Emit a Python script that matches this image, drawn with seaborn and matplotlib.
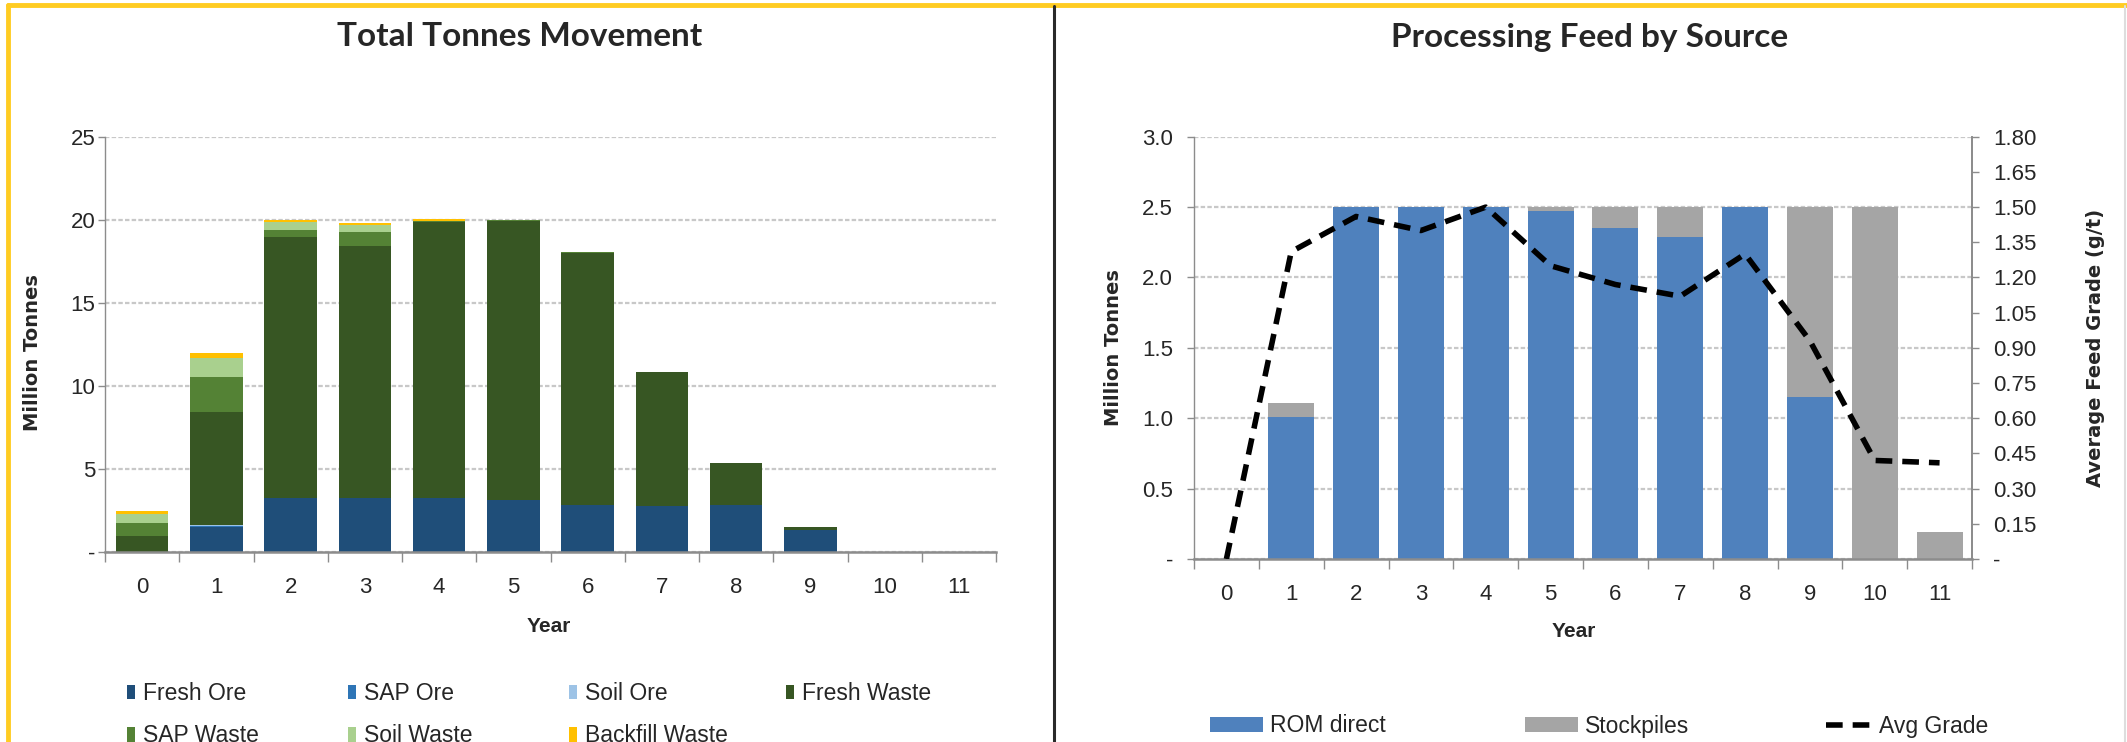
import numpy as np
import matplotlib
matplotlib.use("Agg")
import matplotlib.pyplot as plt
import seaborn as sns
from matplotlib.lines import Line2D
from matplotlib.patches import Patch

# ---------------- data ----------------
years = [str(y) for y in range(12)]

# Total tonnes movement (Mt), stacked bottom -> top
fresh_ore = [0.0, 1.50, 3.25, 3.25, 3.25, 3.15, 2.85, 2.75, 2.85, 1.34, 0.0, 0.0]
sap_ore = [0.0, 0.05, 0.0, 0.0, 0.0, 0.0, 0.0, 0.0, 0.0, 0.0, 0.0, 0.0]
soil_ore = [0.0, 0.10, 0.0, 0.0, 0.0, 0.0, 0.0, 0.0, 0.0, 0.0, 0.0, 0.0]
fresh_waste = [0.94, 6.80, 15.70, 15.20, 16.60, 16.80, 15.15, 8.10, 2.50, 0.16, 0.0, 0.0]
sap_waste = [0.80, 2.10, 0.45, 0.80, 0.05, 0.05, 0.05, 0.0, 0.0, 0.0, 0.0, 0.0]
soil_waste = [0.55, 1.10, 0.45, 0.46, 0.0, 0.0, 0.0, 0.0, 0.0, 0.0, 0.0, 0.0]
backfill_waste = [0.20, 0.30, 0.15, 0.10, 0.15, 0.0, 0.0, 0.0, 0.0, 0.0, 0.0, 0.0]

tonnes_series = ["Fresh Ore", "SAP Ore", "Soil Ore", "Fresh Waste",
                 "SAP Waste", "Soil Waste", "Backfill Waste"]
tonnes_values = [fresh_ore, sap_ore, soil_ore, fresh_waste,
                 sap_waste, soil_waste, backfill_waste]
tonnes_colors = ["#1f4e79", "#2e75b6", "#9dc3e6", "#375623",
                 "#548235", "#a9d08e", "#ffc000"]

# Processing feed by source (Mt) and grade (g/t)
rom_direct = [0.0, 1.01, 2.50, 2.50, 2.50, 2.47, 2.35, 2.29, 2.50, 1.15, 0.0, 0.0]
stockpiles = [0.0, 0.10, 0.0, 0.0, 0.0, 0.03, 0.15, 0.21, 0.0, 1.35, 2.50, 0.19]
avg_grade = [0.0, 1.31, 1.46, 1.40, 1.50, 1.25, 1.17, 1.12, 1.30, 0.93, 0.42, 0.41]

# ---------------- style ----------------
sns.set_theme(style="white")
SANS = ["Liberation Sans", "DejaVu Sans"]
plt.rcParams["font.family"] = SANS

W, H = 2127, 742
fig = plt.figure(figsize=(W / 100, H / 100), dpi=100)
fig.patch.set_facecolor("white")

GRID = "#c8c8c8"
SPINE = "#8c8c8c"
TICK_FS = 16
LEG_FS = 16.5
DASH = (0, (3, 1.8))
LINE_W = 4.0


def style_axis(ax, ypad):
    ax.set_xlim(-0.5, 11.5)
    ax.yaxis.grid(True, color=GRID, linestyle=(0, (2, 1)), linewidth=1.6)
    ax.set_axisbelow(True)
    for s in ["top", "right"]:
        ax.spines[s].set_visible(False)
    ax.spines["left"].set_color(SPINE)
    ax.spines["left"].set_linewidth(1.0)
    ax.spines["bottom"].set_color(SPINE)
    ax.spines["bottom"].set_linewidth(1.8)
    ax.set_xticks(range(12))
    ax.set_xticklabels(years, fontsize=TICK_FS)
    ax.set_xticks(np.arange(-0.5, 12, 1.0), minor=True)
    ax.tick_params(axis="x", which="major", length=0, pad=18)
    ax.tick_params(axis="x", which="minor", length=7, width=1.0,
                   color=SPINE, direction="out", bottom=True)
    ax.tick_params(axis="y", which="major", length=5, width=1.0,
                   color=SPINE, direction="out", left=True,
                   labelsize=TICK_FS, pad=ypad)
    ax.set_xlabel("")
    ax.set_ylabel("")


# ---------------- left chart ----------------
ax1 = fig.add_axes([105 / W, 1 - 552 / H, 891 / W, 415.3 / H])
cum = np.cumsum(np.array(tonnes_values), axis=0)
# draw cumulative totals from the top layer down so each layer shows through
for i in range(len(tonnes_series) - 1, -1, -1):
    sns.barplot(x=years, y=cum[i], color=tonnes_colors[i], saturation=1,
                width=0.71, ax=ax1, linewidth=0)
style_axis(ax1, ypad=2)
ax1.set_ylim(0, 25)
ax1.set_yticks(range(0, 26, 5))
ax1.set_yticklabels(["-"] + [str(v) for v in range(5, 26, 5)])
ax1.set_ylabel("Million Tonnes", fontsize=14, fontweight="bold", family="DejaVu Sans")
ax1.yaxis.set_label_coords(-0.071, 0.48)
ax1.set_xlabel("Year", fontsize=15, fontweight="bold")
ax1.xaxis.set_label_coords(0.498, -0.157)

# ---------------- right chart ----------------
ax2 = fig.add_axes([1194 / W, 1 - 559 / H, 778 / W, 422.3 / H])
feed_total = np.array(rom_direct) + np.array(stockpiles)
sns.barplot(x=years, y=feed_total, color="#a5a5a5", saturation=1,
            width=0.71, ax=ax2, linewidth=0)
sns.barplot(x=years, y=rom_direct, color="#4f81bd", saturation=1,
            width=0.71, ax=ax2, linewidth=0)
style_axis(ax2, ypad=10)
ax2.spines["right"].set_visible(True)
ax2.spines["right"].set_color(SPINE)
ax2.set_ylim(0, 3.0)
ax2.set_yticks(np.arange(0, 3.01, 0.5))
ax2.set_yticklabels(["-"] + [f"{v:.1f}" for v in np.arange(0.5, 3.01, 0.5)])
ax2.set_ylabel("Million Tonnes", fontsize=14, fontweight="bold", family="DejaVu Sans")
ax2.yaxis.set_label_coords(-0.091, 0.5)
ax2.set_xlabel("Year", fontsize=15, fontweight="bold")
ax2.xaxis.set_label_coords(0.488, -0.149)

ax3 = ax2.twinx()
sns.lineplot(x=np.arange(12), y=avg_grade, ax=ax3, color="black",
             linewidth=LINE_W, linestyle=DASH)
ax3.set_xlim(-0.5, 11.5)
ax3.set_ylim(0, 1.8)
ax3.set_yticks(np.arange(0, 1.801, 0.15))
ax3.set_yticklabels(["-"] + [f"{v:.2f}" for v in np.arange(0.15, 1.801, 0.15)])
ax3.tick_params(axis="y", length=5, width=1.0, color=SPINE, direction="out",
                right=True, labelsize=TICK_FS, pad=10)
for s in ["top", "left", "bottom"]:
    ax3.spines[s].set_visible(False)
ax3.spines["right"].set_color(SPINE)
ax3.grid(False)
ax3.set_ylabel("Average Feed Grade (g/t)", fontsize=14, fontweight="bold",
               family="DejaVu Sans")
ax3.yaxis.set_label_coords(1.147, 0.5)

# ---------------- titles ----------------
fig.text(520 / W, 1 - 37 / H, "Total Tonnes Movement", ha="center", va="center",
         fontsize=24, fontweight="bold", family=["Lato", "DejaVu Sans"])
fig.text(1590 / W, 1 - 37 / H, "Processing Feed by Source", ha="center", va="center",
         fontsize=24, fontweight="bold", family=["Lato", "DejaVu Sans"])

# ---------------- legends (one per column, evenly spaced like the source) ----------------
left_cols = [[0, 4], [1, 5], [2, 6], [3]]
left_x = [127, 348, 569, 786]
for cols, x0 in zip(left_cols, left_x):
    hs = [Patch(facecolor=tonnes_colors[i], edgecolor="none") for i in cols]
    fig.legend(hs, [tonnes_series[i] for i in cols], frameon=False,
               loc="upper left", bbox_to_anchor=(x0 / W, 1 - 682 / H),
               fontsize=LEG_FS, handlelength=0.35, handleheight=0.6,
               handletextpad=0.35, labelspacing=0.85, borderaxespad=0, borderpad=0)

right_handles = [Patch(facecolor="#4f81bd", edgecolor="none"),
                 Patch(facecolor="#a5a5a5", edgecolor="none"),
                 Line2D([], [], color="black", linewidth=LINE_W, linestyle=DASH)]
right_labels = ["ROM direct", "Stockpiles", "Avg Grade"]
right_x = [1210, 1525, 1826]
right_len = [2.3, 2.3, 2.0]
for hnd, lab, x0, hl in zip(right_handles, right_labels, right_x, right_len):
    fig.legend([hnd], [lab], frameon=False, loc="center left",
               bbox_to_anchor=(x0 / W, 1 - 726 / H), fontsize=LEG_FS,
               handlelength=hl, handleheight=0.65, handletextpad=0.3,
               borderaxespad=0, borderpad=0)

# ---------------- frame ----------------
fig.add_artist(Line2D([8 / W, 1], [1 - 5 / H, 1 - 5 / H], color="#ffcc22",
                      linewidth=3.5, transform=fig.transFigure))
fig.add_artist(Line2D([8 / W, 8 / W], [0, 1 - 5 / H], color="#ffcc22",
                      linewidth=3.5, transform=fig.transFigure))
fig.add_artist(Line2D([1054 / W, 1054 / W], [0, 1 - 6 / H], color="#2a2a2a",
                      linewidth=2.2, transform=fig.transFigure))
fig.add_artist(Line2D([2125 / W, 2125 / W], [0, 1 - 6 / H], color="#dddddd",
                      linewidth=1.5, transform=fig.transFigure))

fig.savefig("out.png", dpi=100, facecolor="white")
